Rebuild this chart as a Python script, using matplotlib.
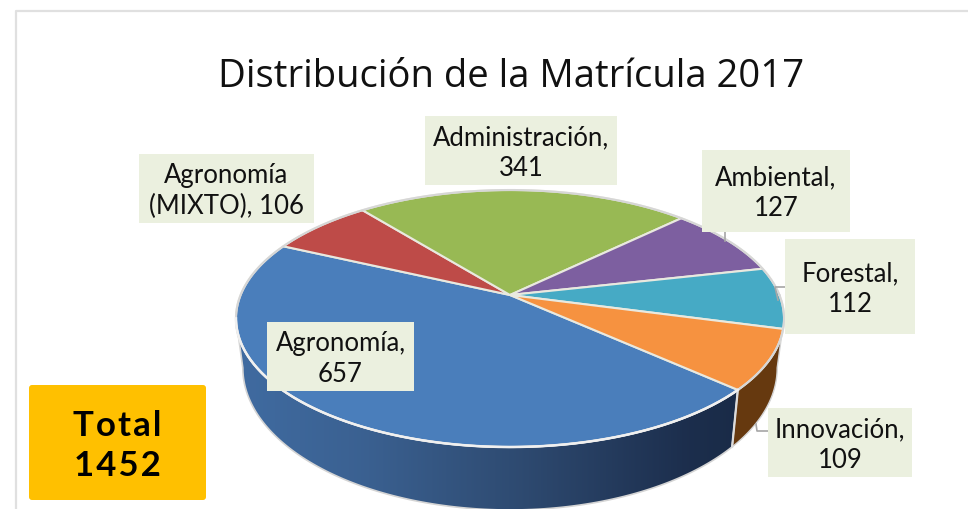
import numpy as np
import matplotlib
matplotlib.use("Agg")
import matplotlib.pyplot as plt
from matplotlib.patches import Rectangle, FancyBboxPatch, Polygon

categories = ["Agronomía", "Agronomía\n(MIXTO)", "Administración", "Ambiental", "Forestal", "Innovación"]
values = [657, 106, 341, 127, 112, 109]
colors = ["#4a7ebb", "#be4b48", "#98b954", "#7d5fa0", "#46aac5", "#f69240"]
title = "Distribución de la Matrícula 2017"
total_lines = ["Total", "1452"]

LABEL_FONT = "Lato"

# label boxes: left, top, right, bottom in pixels
boxes = [(267, 322, 414, 391), (139, 154, 314, 223), (425, 116, 617, 185),
         (702, 150, 850, 232), (785, 239, 915, 334), (768, 408, 912, 477)]
leaders = [None, None, None,
           [(725, 232), (725, 241)],
           [(785, 287), (775, 287), (778, 300)],
           [(768, 431), (757, 431), (756, 424)]]

# perspective of the tilted disc
HUB_X, HUB_Y = 510, 295
A, B, K = 269.4, 124.2, 0.183
START = -42.1


def top_rim(t):
    t = np.radians(t)
    w = 1 + K * np.sin(t)
    return HUB_X + A * np.cos(t) / w, HUB_Y - B * np.sin(t) / w


def bottom_rim(t):
    x, y = top_rim(t)
    return HUB_X + 0.975 * (x - HUB_X), 342 + 1.105 * (y - HUB_Y)


def side_shape(t0, t1):
    t = np.linspace(t0, t1, 120)
    x0, y0 = top_rim(t)
    x1, y1 = bottom_rim(t)
    return np.column_stack([np.r_[x0, x1[::-1]], np.r_[y0, y1[::-1]]])


fig = plt.figure(figsize=(9.68, 5.09), dpi=100)
ax = fig.add_axes([0, 0, 1, 1])

angles = START - np.r_[0, np.cumsum(values)] / sum(values) * 360

# frame of the slide
ax.plot([16, 16, 968], [509, 10.5, 10.5], color="#e0e0e0", lw=1.6, zorder=1)

# blue side with its gradient, brown side next to it
blue = Polygon(side_shape(190.5, 360 + START), closed=True, fc="none", ec="#d4d4d4", lw=1.2, zorder=3)
ax.add_patch(blue)
stops = np.array([[0.25, 0.42, 0.63], [0.23, 0.38, 0.57], [0.18, 0.29, 0.44], [0.11, 0.18, 0.30], [0.10, 0.17, 0.28]])
ramp = np.array([np.interp(np.linspace(0, 1, 256), [0, 0.25, 0.57, 0.9, 1], stops[:, i]) for i in range(3)]).T
im = ax.imshow(ramp[np.newaxis, :, :], extent=(236, 740, 510, 320), aspect="auto", zorder=2)
im.set_clip_path(blue)

brown = Polygon(side_shape(START, -10.5), closed=True, fc="#66390f", ec="#d4d4d4", lw=1.0, zorder=3)
ax.add_patch(brown)

# separator between the two side walls
x0, y0 = top_rim(START)
x1, y1 = bottom_rim(START)
ax.plot([x0, x1], [y0, y1], color="#dcdcdc", lw=1.6, zorder=4)

# top surface, clockwise from the Innovación/Agronomía edge
for i, c in enumerate(colors):
    t = np.linspace(angles[i], angles[i + 1], 150)
    x, y = top_rim(t)
    ax.fill(np.r_[HUB_X, x], np.r_[HUB_Y, y], fc=c, ec="#e9e9df", lw=1.5, joinstyle="round", zorder=5)

t = np.linspace(0, 360, 400)
x, y = top_rim(t)
ax.plot(x, y, color="#d6d6d6", lw=1.5, zorder=6)
t = np.linspace(START, 190.5 - 360, 200)
x, y = top_rim(t)
ax.plot(x, y, color="#f0f0f0", lw=1.8, zorder=6)

# leader lines and labels
for pts in leaders:
    if pts:
        ax.plot(*zip(*pts), color="#a6a6a6", lw=1.2, zorder=7)

for name, val, (l, tp, r, b) in zip(categories, values, boxes):
    ax.add_patch(Rectangle((l, tp), r - l, b - tp, fc="#ebf0df", ec="none", zorder=8))
    if "\n" in name:
        text = "Agronomía\n(MIXTO), %d" % val
    else:
        text = "%s,\n%d" % (name, val)
    ax.text((l + r) / 2, (tp + b) / 2 + 2.5, text, ha="center", va="center", fontsize=18.5,
            family=LABEL_FONT, color="#111111", linespacing=1.27, zorder=9)

# total box
ax.add_patch(FancyBboxPatch((31, 387), 173, 111, boxstyle="round,pad=2,rounding_size=3",
                            fc="#ffc000", ec="none", zorder=8))
# letters set apart with hair spaces, the original is tracked out
for line, y in zip(total_lines, [426, 466]):
    ax.text(117, y, "\u200a".join(line), ha="center", va="center", fontsize=25, fontweight="bold",
            family=[LABEL_FONT, "DejaVu Sans"], color="black", zorder=9)

ax.text(511, 87, title, ha="center", va="baseline", fontsize=27.5, family="Open Sans", color="#111111", zorder=9)

ax.set_xlim(0, 968)
ax.set_ylim(509, 0)
ax.axis("off")

fig.savefig("out.png", dpi=100)
